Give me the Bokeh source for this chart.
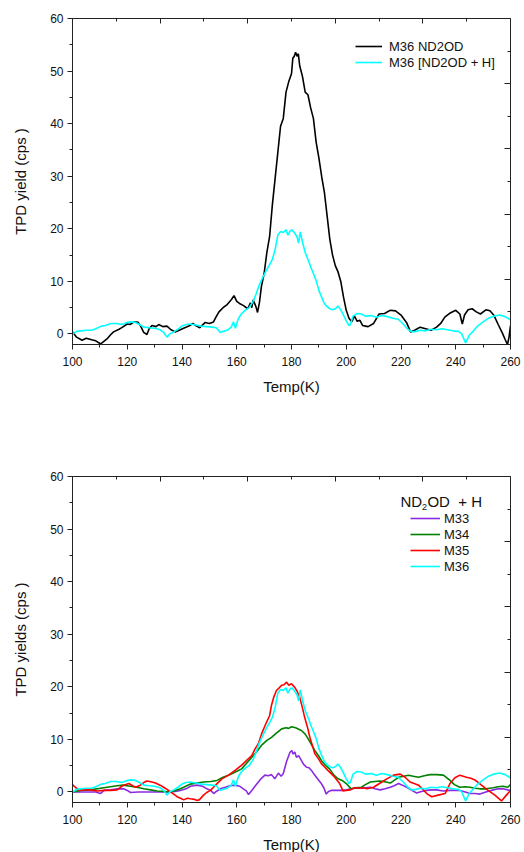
from bokeh.plotting import figure
from bokeh.layouts import column
from bokeh.models import (Range1d, LinearAxis, FixedTicker, SingleIntervalTicker,
                          Legend, LegendItem, Label)
from bokeh.embed import file_html
from bokeh.resources import INLINE

# ---------------- data ----------------
m36_nd2od_x = [100, 101.5, 103.5, 105, 107, 108.5, 110.3, 112.5, 114, 115, 117, 118, 120, 121, 122.5, 124, 125, 126,
               127.2, 128, 129, 130.5, 131.5, 133, 134.5, 136, 137.5, 139, 141, 142.5, 144, 145, 146.5, 148.5, 150,
               151.5, 152.5, 153.5, 155, 156.5, 158, 159, 160, 161, 162.5, 164, 165, 165.5, 166, 167, 167.6, 168.3,
               169, 170, 171, 172, 173, 174, 175, 176, 177, 178, 179, 180, 180.5, 181, 181.5, 182, 182.5, 183, 184,
               185, 186, 187, 188, 189, 190, 191, 192, 193, 194, 195, 196, 197, 198, 199, 200, 201, 202, 203, 204,
               205, 206, 207, 208, 210, 212, 214, 216, 218, 220, 222, 223.5, 225, 227, 229, 231, 233, 234.5, 236,
               238, 240, 241.5, 242.4, 243.2, 244.5, 246, 247.5, 249, 251, 252.5, 254, 255.5, 257, 258, 258.9,
               259.5, 260]
m36_nd2od_y = [0.4, -0.6, -1.2, -0.8, -1.1, -1.3, -1.9, -1.0, -0.1, 0.4, 0.9, 1.2, 1.9, 1.8, 2.3, 2.2, 1.4, 0.3,
               -0.1, 1.0, 1.6, 1.4, 1.8, 1.4, 1.5, 0.8, 0.4, 0.7, 1.2, 1.5, 2.0, 1.6, 1.2, 2.2, 2.0,
               2.3, 3.3, 4.2, 5.0, 5.6, 6.5, 7.3, 6.2, 5.8, 5.4, 4.8, 5.9, 5.0, 6.5, 5.2, 4.1, 6.0,
               9.0, 11.5, 15.5, 18.5, 24.5, 29.5, 34.5, 39.5, 41.0, 46.0, 48.0, 49.5, 52.5, 52.8, 53.6, 52.8, 53.3, 51.0, 49.0,
               46.0, 45.5, 43.0, 41.0, 36.5, 33.5, 30.0, 27.0, 22.5, 18.0, 15.0, 13.0, 11.8, 10.0, 7.0, 4.5, 3.0, 2.3, 3.4, 2.4,
               2.6, 1.6, 1.5, 1.4, 2.0, 3.8, 3.9, 4.5, 4.4, 3.6, 2.2, 0.4, 0.7, 1.3, 1.0, 0.7, 1.3, 2.0, 3.2,
               4.0, 4.5, 3.8, 1.9, 3.6, 4.6, 4.8, 4.2, 3.8, 4.6, 4.4, 3.5, 1.8, 0.2, -1.0, -2.0,
               -0.5, 1.6]

m36_h_x = [100, 101.5, 103, 105, 107, 108.5, 110.5, 112, 114, 116, 118, 120, 121.5, 123, 124.5, 126, 128, 130, 132,
           133.3, 134.5, 135.5, 137, 138.5, 140, 141.5, 143, 145, 147, 149, 151, 152.5, 154, 155, 156.5, 158, 158.8,
           159.5, 160.5, 161.5, 163, 164.5, 166, 167, 168, 169, 170, 171, 172, 173, 174, 175, 176, 177, 178, 178.7,
           179.5, 180.2, 181, 182, 182.6, 183.2, 184, 185, 186, 187, 188, 189, 190, 191, 192, 193, 194, 195, 196,
           197, 198, 199, 200, 201, 201.5, 202.5, 204, 205.5, 207, 209, 211, 213, 215, 217, 219, 221, 222.5, 224,
           225.5, 227, 229, 231, 233, 235, 237, 239, 241, 242.2, 243.6, 245, 246.5, 248, 250, 252, 254, 256, 258, 260]
m36_h_y = [0.0, 0.5, 0.6, 0.7, 0.7, 1.0, 1.5, 1.6, 2.0, 2.0, 1.8, 2.2, 2.3, 2.2, 1.8, 1.3, 1.2, 1.1, 0.8,
           0.3, -0.6, 0.0, 0.4, 0.9, 1.5, 1.8, 1.9, 1.7, 1.5, 1.4, 1.3, 1.2, 0.3, 0.5, 0.7, 1.3, 2.3,
           1.1, 2.8, 3.7, 4.5, 5.0, 6.2, 7.5, 9.0, 10.2, 11.3, 12.3, 13.2, 14.2, 16.0, 18.8, 19.5, 19.3, 19.8, 18.8,
           19.6, 19.8, 19.3, 18.5, 17.3, 19.4, 17.5, 15.5, 14.2, 12.8, 11.5, 10.2, 8.3, 7.0, 5.8, 5.2, 4.8, 4.6, 4.8,
           5.3, 4.6, 3.6, 2.5, 1.6, 1.8, 3.4, 3.9, 3.8, 3.4, 3.5, 3.2, 3.5, 3.3, 3.0, 2.8, 1.8, 0.9, 0.4,
           0.5, 0.7, 0.6, 0.9, 0.8, 1.0, 0.8, 0.6, 0.5, 0.0, -1.7, -0.2, 0.6, 1.5, 2.3, 3.0, 3.4, 3.6, 3.3, 2.7]

m35_x = [100, 101, 102.5, 104, 106.5, 109, 111.5, 114, 116.3, 117.5, 118.7, 120.6, 122, 123, 124.8, 126, 127.2, 129,
         130.3, 132, 133.3, 134.5, 135.8, 137, 138.2, 139.5, 140.6, 142, 143.1, 144.5, 145.5, 146.3, 147.9, 149, 150.4,
         151.5, 152.8, 154.6, 157, 159.4, 161.8, 164.2, 165.5, 166.7, 168, 169.1, 170.9, 172, 172.7, 173.5, 174.5,
         175.5, 176.4, 177.3, 178.2, 179, 180, 181.2, 182, 183, 184, 184.8, 186, 186.7, 188, 188.5, 190, 190.9, 192,
         193.3, 194.5, 195.8, 196.7, 197.6, 198.8, 200, 201.5, 203, 204.5, 206, 207.6, 210, 212.4, 214.8, 217.3, 219.7,
         221.5, 223.3, 224.8, 226.4, 228, 229.4, 231.2, 233.6, 236.1, 237.9, 239.7, 241.5, 243.9, 245.5, 247, 249.4,
         251.8, 254.3, 256.7, 258.5, 260]
m35_y = [1.4, 0.9, 0.3, 0.4, 0.4, 0.2, 0.3, 0.3, 0.4, 0.9, 1.3, 1.6, 1.2, 0.9, 1.3, 1.8, 2.1, 1.9,
         1.7, 1.3, 0.9, 0.5, 0.0, -0.4, -0.9, -1.2, -1.5, -1.2, -1.3, -1.4, -1.6, -1.5, -0.6, -0.1, 0.3,
         0.9, 1.6, 2.5, 3.2, 4.1, 5.1, 6.3, 6.9, 8.2, 9.3, 11.1, 13.3, 14.5, 16.5, 18.0, 19.3,
         19.8, 20.3, 20.4, 20.9, 20.3, 20.6, 19.9, 19.2, 18.0, 16.0, 14.2, 12.0, 10.4, 8.2, 7.3, 6.2, 5.4, 4.8,
         4.1, 3.5, 2.8, 2.2, 1.6, 0.2, 0.3, 0.4, 0.8, 0.7, 0.8, 0.6, 0.9, 1.7, 2.5, 3.2, 3.4,
         2.8, 1.9, 1.6, 1.3, 0.5, -0.3, -0.9, -0.6, -0.3, 1.6, 2.7, 3.2, 2.8, 2.6, 2.3, 1.3,
         0.3, -0.6, -1.7, -0.6, 0.3]

m34_x = [100, 102.9, 106.6, 111.4, 116.3, 118.5, 121.2, 123.5, 126.1, 128.5, 130.9, 133.5, 135.8, 137.5, 139.4, 141,
         143.1, 145.5, 147.9, 150.5, 152.8, 155, 157, 159.5, 161.8, 163.5, 165.5, 167.5, 169.1, 171, 172.7, 174.5,
         176.4, 178, 179, 180, 181.5, 183.6, 185, 186.1, 187.5, 188.5, 190, 190.9, 192.5, 193.9, 195.5, 197, 198.5,
         200, 201.8, 203.5, 205.5, 207, 208.8, 210.5, 212.4, 214.5, 216.1, 217.5, 219.1, 221, 222.7, 224.5, 226.4,
         228.5, 230.6, 233, 235.5, 237.9, 239.5, 241.5, 243.5, 245.2, 247, 248.8, 251, 253.7, 255.5, 257.3, 259, 260]
m34_y = [0.0, 0.3, 0.4, 0.8, 1.2, 1.3, 1.1, 0.9, 0.6, 0.4, 0.2, 0.1, 0.0, 0.3, 0.6, 1.0,
         1.5, 1.7, 1.9, 2.0, 2.2, 2.8, 3.2, 3.8, 4.4, 5.4, 6.6, 7.8, 8.9, 9.8, 10.4, 11.2,
         12.0, 12.2, 12.1, 12.4, 12.2, 11.7, 11.0, 10.1, 8.8, 7.9, 6.8, 6.0, 5.0, 4.4, 3.2, 2.5, 2.2,
         1.6, 0.6, 0.8, 0.9, 1.4, 1.9, 2.0, 2.1, 1.9, 1.7, 2.2, 2.8, 3.0, 3.2, 3.0, 2.8,
         3.1, 3.3, 3.3, 3.2, 2.2, 1.4, 0.9, 1.0, 0.9, 0.7, 0.6, 0.6, 0.8, 1.0, 1.1, 0.9, 1.4]

m33_x = [100, 103, 106, 108.5, 110.2, 111.5, 114, 116.3, 118.7, 120, 121.2, 124, 127, 130, 133, 135.8, 137.5, 139.4,
         141.5, 143.1, 145.5, 147.5, 149.1, 150.5, 151.6, 152.5, 154, 155.8, 157.5, 159.4, 161, 162.4, 163.5, 164.3,
         165.5, 166.8, 167.9, 169, 170.3, 171.5, 172.7, 173.9, 175.2, 176.2, 177, 178.2, 179.4, 180.1, 180.6, 181.2,
         181.8, 182.6, 183.6, 184.5, 185.5, 186.4, 187.3, 188.2, 189.1, 190, 190.9, 191.8, 192.7, 193.5, 194.5, 196.5,
         198.2, 200, 201.8, 203.5, 205.5, 207, 208.8, 210.5, 212.4, 214.2, 216.1, 217.5, 219.1, 220.5, 222.1, 224,
         225.7, 227.5, 229.4, 231.2, 233, 235.5, 237.9, 239.7, 241.5, 243.5, 245.2, 247, 248.8, 251, 253.7, 255.5,
         257.3, 259, 260]
m33_y = [0.0, 0.0, 0.0, 0.0, -0.3, 0.3, 0.4, 0.6, 0.6, 0.3, -0.1, 0.0, 0.0, 0.0, 0.0, 0.0, 0.1, 0.3,
         0.6, 1.1, 1.3, 1.1, 0.6, 0.3, -0.3, 0.1, 0.6, 0.9, 1.2, 1.3, 1.1, 0.6, 0.2, -0.5,
         0.3, 1.2, 1.9, 2.6, 3.2, 3.1, 3.3, 2.5, 3.6, 3.0, 3.5, 5.8, 7.5, 7.9, 7.2, 7.6,
         6.6, 6.9, 6.0, 5.2, 4.7, 4.6, 4.1, 3.4, 2.8, 2.2, 1.6, 0.8, -0.4, 0.1, 0.3, 0.3,
         0.3, 0.4, 0.6, 0.7, 0.7, 0.8, 0.9, 0.6, 0.4, 0.6, 0.9, 1.2, 1.6, 1.3, 0.9, 0.3,
         -0.2, 0.1, 0.3, 0.4, 0.4, 0.2, 0.3, 0.3, 0.3, 0.0, -0.3, -0.3, -0.4, 0.0, 0.4, 0.6,
         0.6, 0.4, 0.3]

top_labels = ["M36 ND2OD", "M36 [ND2OD + H]"]
bottom_labels = ["M33", "M34", "M35", "M36"]

FONT = "Liberation Sans"
TXT = "#111111"


def make_fig(border_top, border_bottom, ylabel):
    p = figure(frame_width=438, frame_height=326,
               min_border_left=72, min_border_right=14,
               min_border_top=border_top, min_border_bottom=border_bottom,
               x_range=Range1d(100, 260), y_range=Range1d(-2, 60),
               output_backend="svg", toolbar_location=None,
               x_axis_label="Temp(K)", y_axis_label=ylabel)
    p.xgrid.visible = False
    p.ygrid.visible = False
    p.outline_line_color = "#222222"
    p.background_fill_color = "white"
    p.border_fill_color = "white"

    xa = p.xaxis[0]
    xa.ticker = SingleIntervalTicker(interval=20, num_minor_ticks=2)
    ya = p.yaxis[0]
    ya.ticker = SingleIntervalTicker(interval=10, num_minor_ticks=2)
    for ax in (xa, ya):
        ax.major_tick_in = 0
        ax.major_tick_out = 5
        ax.minor_tick_in = 0
        ax.minor_tick_out = 3
        ax.axis_line_color = "#222222"
        ax.major_tick_line_color = "#222222"
        ax.minor_tick_line_color = "#222222"
        ax.major_label_text_font = FONT
        ax.major_label_text_font_size = "12px"
        ax.major_label_text_color = TXT
        ax.axis_label_text_font = FONT
        ax.axis_label_text_font_size = "15px"
        ax.axis_label_text_font_style = "normal"
        ax.axis_label_text_color = TXT
    xa.major_label_standoff = 7
    xa.axis_label_standoff = 9
    ya.major_label_standoff = 4
    ya.axis_label_standoff = 18

    p.extra_x_ranges = {"t": Range1d(0, 10)}
    p.extra_y_ranges = {"r": Range1d(0, 10)}
    blank = {i: "" for i in range(11)}
    top = LinearAxis(x_range_name="t",
                     ticker=FixedTicker(ticks=[2, 4, 6, 8], minor_ticks=[1, 3, 5, 7, 9]),
                     major_tick_in=5, major_tick_out=0, minor_tick_in=3, minor_tick_out=0,
                     major_label_overrides=blank, major_label_standoff=0,
                     axis_line_color="#222222", major_tick_line_color="#222222",
                     minor_tick_line_color="#222222")
    right = LinearAxis(y_range_name="r",
                       ticker=FixedTicker(ticks=[2, 4, 6, 8], minor_ticks=[1, 3, 5, 7, 9]),
                       major_tick_in=6, major_tick_out=0, minor_tick_in=3, minor_tick_out=0,
                       major_label_overrides=blank, major_label_standoff=0,
                       axis_line_color="#222222", major_tick_line_color="#222222",
                       minor_tick_line_color="#222222")
    p.add_layout(top, "above")
    p.add_layout(right, "right")
    return p


# ---------------- top chart ----------------
p1 = make_fig(18, 66, "TPD yield (cps )")
r_black = p1.line(m36_nd2od_x, m36_nd2od_y, line_color="black", line_width=1.6)
r_cyan = p1.line(m36_h_x, m36_h_y, line_color="#00FFFF", line_width=1.6)
leg1 = Legend(items=[LegendItem(label=top_labels[0], renderers=[r_black]),
                     LegendItem(label=top_labels[1], renderers=[r_cyan])],
              location=(283, 274), padding=0, margin=0, spacing=0,
              label_height=16, glyph_height=16, glyph_width=27, label_standoff=7,
              label_text_font=FONT, label_text_font_size="13px", label_text_color=TXT,
              border_line_alpha=0, background_fill_alpha=0)
p1.add_layout(leg1)

# ---------------- bottom chart ----------------
p2 = make_fig(66, 50, "TPD yields (cps )")
r33 = p2.line(m33_x, m33_y, line_color="#8A2BE2", line_width=1.6)
r34 = p2.line(m34_x, m34_y, line_color="#008000", line_width=1.6)
r35 = p2.line(m35_x, m35_y, line_color="#FF0000", line_width=1.6)
r36 = p2.line(m36_h_x, m36_h_y, line_color="#00FFFF", line_width=1.6)
leg2 = Legend(items=[LegendItem(label=lab, renderers=[r]) for lab, r in
                     zip(bottom_labels, [r33, r34, r35, r36])],
              location=(338, 228), padding=0, margin=0, spacing=0,
              label_height=16, glyph_height=16, glyph_width=30, label_standoff=4,
              label_text_font=FONT, label_text_font_size="13px", label_text_color=TXT,
              border_line_alpha=0, background_fill_alpha=0)
p2.add_layout(leg2)

tx, ty = 219.8, 55.3
p2.add_layout(Label(x=tx, y=ty, text="ND", text_font=FONT, text_font_size="15px",
                    text_baseline="middle", text_color=TXT))
p2.add_layout(Label(x=tx, y=ty, x_offset=21.5, y_offset=-6, text="2", text_font=FONT,
                    text_font_size="9px", text_baseline="middle", text_color=TXT))
p2.add_layout(Label(x=tx, y=ty, x_offset=27, text="OD\u00a0\u00a0+\u00a0H", text_font=FONT,
                    text_font_size="15px", text_baseline="middle", text_color=TXT))

layout = column(p1, p2, spacing=0)
open("out.html", "w").write(file_html(layout, INLINE))
